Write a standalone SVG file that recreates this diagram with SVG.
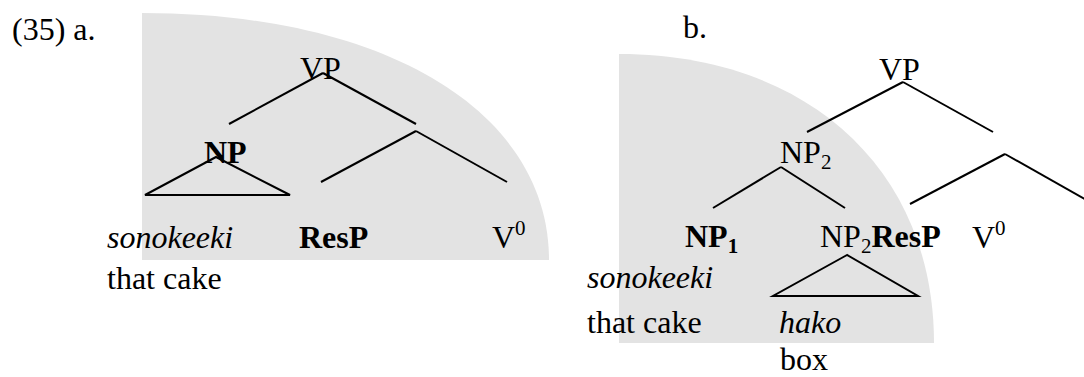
<svg xmlns="http://www.w3.org/2000/svg" width="1084" height="377" viewBox="0 0 1084 377" font-family="'Liberation Serif', 'Times New Roman', Times, serif" font-size="32">
<style>
text{font-family:'Liberation Serif','Times New Roman',Times,serif;font-size:32px;fill:#000}
.b{font-weight:bold}
.i{font-style:italic}
.shade{fill:#e3e3e3;stroke:none}
.edge{stroke:#000;stroke-width:2;fill:none}
</style>
<rect width="1084" height="377" fill="#fff"/>
<g id="shading">
<path class="shade" d="M142,13 C386,13 549,112 549,260 L142,260 Z"/>
<path class="shade" d="M619,54 C808,54 934,170 934,343 L619,343 Z"/>
</g>
<g id="labels">
<text x="12" y="40">(35) a.</text>
<text x="683" y="38">b.</text>
</g>
<g id="connectors">
<line class="edge" x1="323" y1="73" x2="229" y2="124"/>
<line class="edge" x1="323" y1="73" x2="416" y2="124"/>
<line class="edge" x1="416" y1="131" x2="321" y2="182"/>
<line class="edge" x1="416" y1="131" x2="507" y2="182"/>
<polygon class="edge" points="216,157 145,195 290,195"/>
<line class="edge" x1="903" y1="82" x2="807" y2="132"/>
<line class="edge" x1="903" y1="82" x2="993" y2="132"/>
<line class="edge" x1="781" y1="167" x2="713" y2="208"/>
<line class="edge" x1="781" y1="167" x2="845" y2="208"/>
<line class="edge" x1="1005" y1="154" x2="910" y2="204"/>
<line class="edge" x1="1005" y1="154" x2="1090" y2="202"/>
<polygon class="edge" points="847,255 773,296 918,296"/>
</g>
<g id="a-VP"><text x="300" y="79">VP</text></g>
<g id="a-NP"><text class="b" x="204" y="163">NP</text></g>
<g id="a-sonokeeki"><text class="i" x="107" y="248">sonokeeki</text><text x="107" y="289">that cake</text></g>
<g id="a-ResP"><text class="b" x="299" y="248">ResP</text></g>
<g id="a-V0"><text x="492" y="248">V<tspan font-size="21" dy="-13">0</tspan></text></g>
<g id="b-VP"><text x="879" y="80">VP</text></g>
<g id="b-NP2"><text x="780" y="163">NP<tspan font-size="21" dy="6">2</tspan></text></g>
<g id="b-NP1"><text class="b" x="685" y="247">NP<tspan font-size="21" dy="6">1</tspan></text></g>
<g id="b-NP2ResP"><text x="820" y="247">NP<tspan font-size="21" dy="6">2</tspan><tspan class="b" dy="-6">ResP</tspan></text></g>
<g id="b-V0"><text x="972" y="248">V<tspan font-size="21" dy="-13">0</tspan></text></g>
<g id="b-sonokeeki"><text class="i" x="587" y="288">sonokeeki</text><text x="587" y="333">that cake</text></g>
<g id="b-hako"><text class="i" x="779" y="333">hako</text><text x="780" y="370">box</text></g>
</svg>
